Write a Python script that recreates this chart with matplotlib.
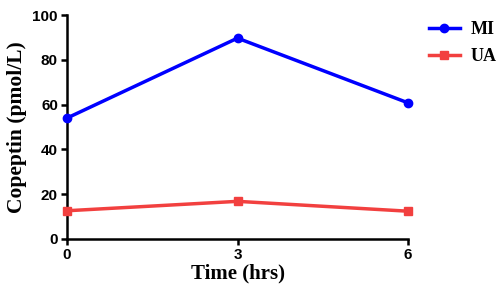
import matplotlib
matplotlib.use("Agg")
import matplotlib.pyplot as plt

time = [0, 3, 6]
mi = [54.0, 89.7, 60.8]
ua = [12.6, 16.8, 12.4]
xticks = [0, 3, 6]
yticks = [0, 20, 40, 60, 80, 100]

fig = plt.figure(figsize=(5.0, 2.9), dpi=100)
ax = fig.add_axes([0.134, 0.176, 0.682, 0.772])

ax.plot(time, mi, color="#0000FF", lw=2.5, marker="o", ms=6, label="MI", clip_on=False, zorder=3)
ax.plot(time, ua, color="#F2403F", lw=2.5, marker="s", ms=6, label="UA", clip_on=False, zorder=3)

ax.set_xlim(0, 6)
ax.set_ylim(0, 100)
ax.set_xticks(xticks)
ax.set_yticks(yticks)
for s in ["top", "right"]:
    ax.spines[s].set_visible(False)
for s in ["left", "bottom"]:
    ax.spines[s].set_linewidth(1.8)
ax.tick_params(width=1.8, length=4.5, direction="out", pad=2)
for lab in ax.get_xticklabels() + ax.get_yticklabels():
    lab.set_fontfamily("Liberation Sans")
    lab.set_fontweight("bold")
    lab.set_fontsize(11)

ax.set_xlabel("Time (hrs)", fontfamily="Liberation Serif", fontweight="bold", fontsize=15, labelpad=1)
ax.set_ylabel("Copeptin (pmol/L)", fontfamily="Liberation Serif", fontweight="bold", fontsize=15.5, labelpad=4)

leg = ax.legend(loc="upper left", bbox_to_anchor=(1.04, 1.005), frameon=False,
                prop={"family": "Liberation Serif", "weight": "bold", "size": 13},
                handlelength=1.7, handletextpad=0.6, labelspacing=0.55, borderaxespad=0)

fig.savefig("out.png", dpi=100)
